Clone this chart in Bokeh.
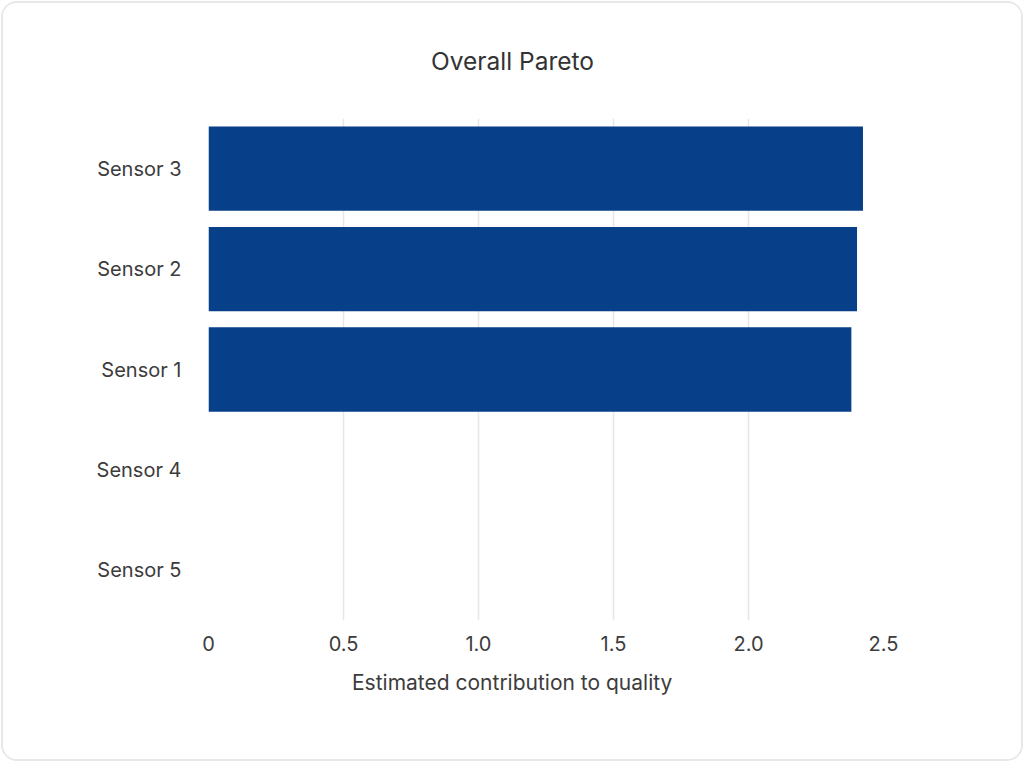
from bokeh.plotting import figure
from bokeh.models import ColumnDataSource, FactorRange, Range1d, FixedTicker, Title
from bokeh.embed import file_html
from bokeh.resources import INLINE

# Data (top to bottom as in the chart)
sensors = ["Sensor 3", "Sensor 2", "Sensor 1", "Sensor 4", "Sensor 5"]
contributions = [2.424, 2.402, 2.381, 0.0, 0.0]
tick_values = [0, 0.5, 1.0, 1.5, 2.0, 2.5]
tick_labels = ["0", "0.5", "1.0", "1.5", "2.0", "2.5"]
title_text = "Overall Pareto"
x_label = "Estimated contribution to quality"

FONT = "Inter"
BAR = "#073f88"
TEXT = "#3c3c3c"

source = ColumnDataSource(dict(sensor=sensors, value=contributions))

p = figure(
    width=1022, height=760,
    y_range=FactorRange(factors=list(reversed(sensors)), range_padding=0),
    x_range=Range1d(0, 2.5),
    output_backend="svg", toolbar_location=None,
    min_border_left=205, min_border_right=142,
    min_border_top=115, min_border_bottom=143,
)

p.hbar(y="sensor", right="value", height=0.84, source=source,
       fill_color=BAR, line_color=BAR, line_width=0)

p.outline_line_color = None
p.background_fill_color = "white"
p.border_fill_color = "white"
p.styles = {"border": "2px solid #e8e8e8", "border-radius": "16px",
            "box-sizing": "border-box", "overflow": "hidden", "margin": "1px"}

# Title (left aligned with offset so that it is centred on the card)
p.title.text = title_text
p.title.align = "left"
p.title.vertical_align = "middle"
p.title.offset = 222.5
p.title.text_font = FONT
p.title.text_font_size = "24.5px"
p.title.text_font_style = "normal"
p.title.text_color = "#333333"
p.title.standoff = 83

p.add_layout(Title(text=x_label, align="left", offset=143.5, vertical_align="top",
                   text_font=FONT, text_font_size="21px", text_font_style="normal",
                   text_color=TEXT, standoff=32), "below")

# X axis
xa = p.xaxis[0]
xa.ticker = FixedTicker(ticks=tick_values)
xa.major_label_overrides = dict(zip(tick_values, tick_labels))
xa.axis_line_color = None
xa.major_tick_line_color = None
xa.minor_tick_line_color = None
xa.major_label_text_font = FONT
xa.major_label_text_font_size = "20px"
xa.major_label_text_color = TEXT
xa.major_label_standoff = 9

# Y axis
ya = p.yaxis[0]
ya.axis_line_color = None
ya.major_tick_line_color = None
ya.minor_tick_line_color = None
ya.major_label_text_font = FONT
ya.major_label_text_font_size = "20px"
ya.major_label_text_color = TEXT
ya.major_label_standoff = 21

# Grid
p.ygrid.grid_line_color = None
p.xgrid.grid_line_color = "#e6e6e6"
p.xgrid.grid_line_width = 1.5

open("out.html", "w").write(file_html(p, INLINE))
